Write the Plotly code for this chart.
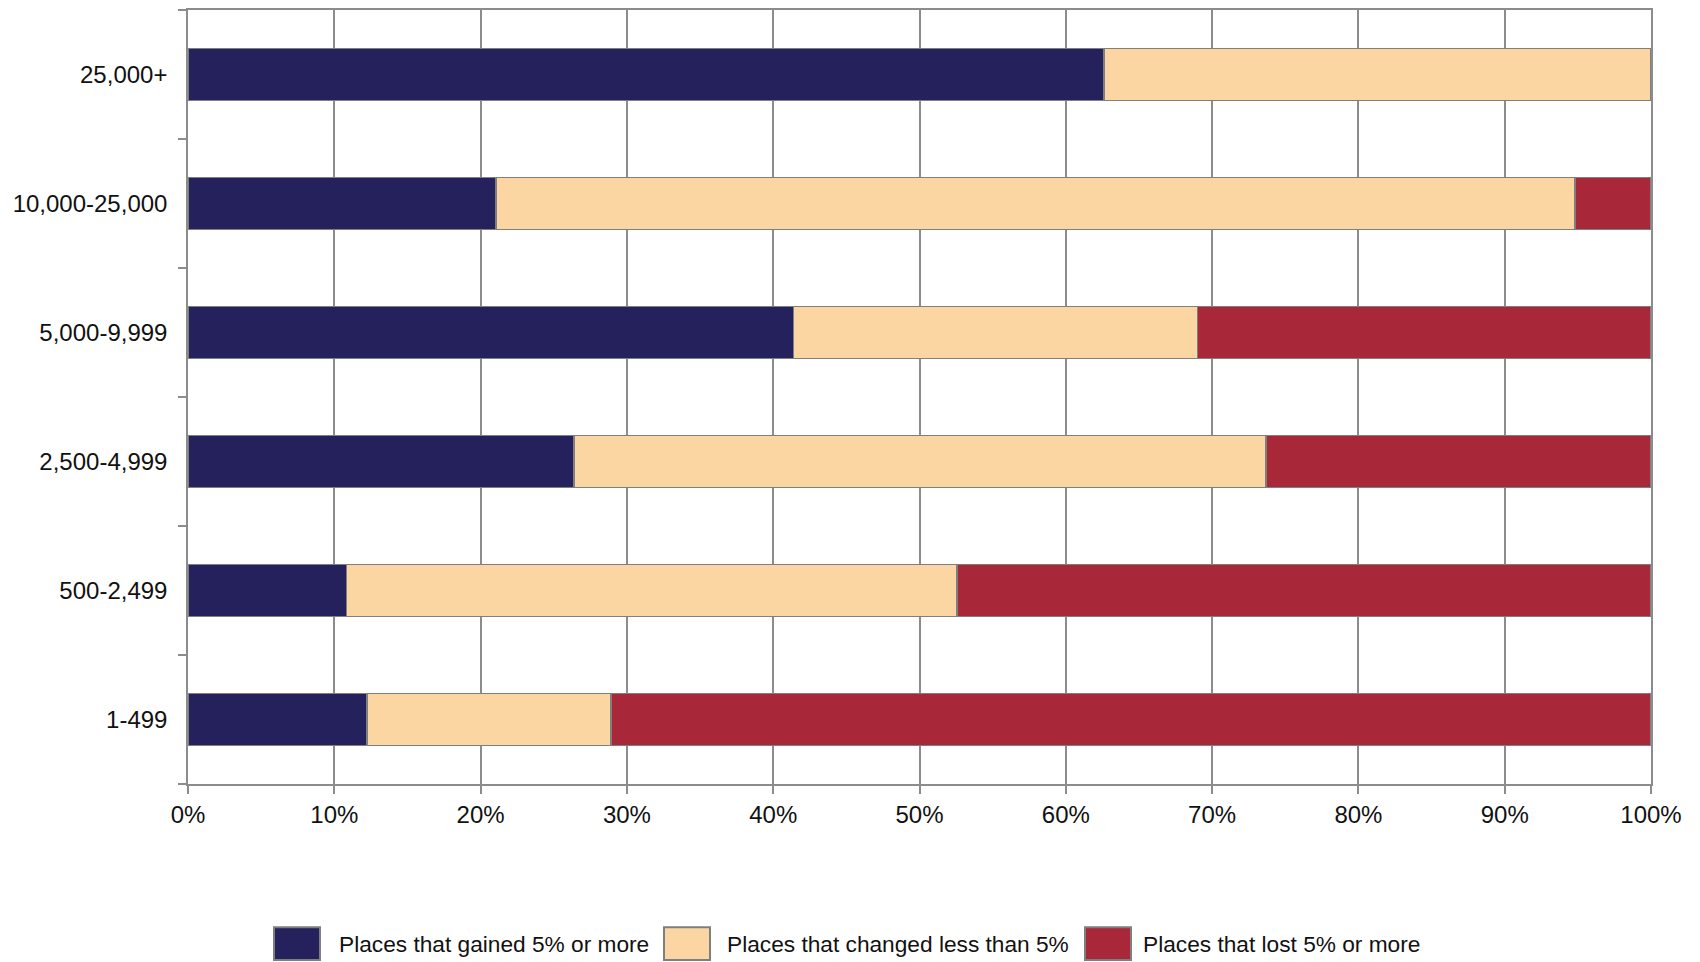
import plotly.graph_objects as go

# ---- data (percent of places, by population size) ----
categories = ["1-499", "500-2,499", "2,500-4,999", "5,000-9,999", "10,000-25,000", "25,000+"]
gained = [12.25, 10.85, 26.4, 41.4, 21.05, 62.6]
changed = [16.65, 41.7, 47.3, 27.6, 73.75, 37.4]
lost = [71.1, 47.45, 26.3, 31.0, 5.2, 0.0]

series_names = ["Places that gained 5% or more",
                "Places that changed less than 5%",
                "Places that lost 5% or more"]
series_values = [gained, changed, lost]
series_colors = ["#24215c", "#fcd6a2", "#a8283a"]

x_ticks = list(range(0, 101, 10))

W, H = 1700, 962
L, R, T, B = 180, 57, 0, 186
plot_w = W - L - R
plot_h = H - T - B

fig = go.Figure()
for name, vals, col in zip(series_names, series_values, series_colors):
    fig.add_trace(go.Bar(
        y=categories, x=vals, name=name, orientation="h",
        marker=dict(color=col, line=dict(color="#7f7f7f", width=1.5)),
        showlegend=False,
    ))

# custom legend (large swatches like the original)
legend_box_x = [266, 656, 1077]
legend_text_x = [329, 717, 1133]
box_w, box_h = 46, 33
box_cy = 936

def px_to_paper_x(px):
    return (px - L) / plot_w

def py_to_paper_y(py):
    return (H - B - py) / plot_h

shapes = []
annotations = []
for bx, tx, name, col in zip(legend_box_x, legend_text_x, series_names, series_colors):
    shapes.append(dict(
        type="rect", xref="paper", yref="paper",
        x0=px_to_paper_x(bx), x1=px_to_paper_x(bx + box_w),
        y0=py_to_paper_y(box_cy + box_h / 2), y1=py_to_paper_y(box_cy - box_h / 2),
        fillcolor=col, line=dict(color="#7f7f7f", width=2),
    ))
    annotations.append(dict(
        xref="paper", yref="paper", x=px_to_paper_x(tx), y=py_to_paper_y(box_cy),
        xanchor="left", yanchor="middle", text=name, showarrow=False,
        font=dict(size=22.7, color="#111111", family="Liberation Sans, Arial, sans-serif"),
    ))

fig.update_layout(
    width=W, height=H,
    margin=dict(l=L, r=R, t=T, b=B, pad=0),
    barmode="stack", bargap=0.6,
    plot_bgcolor="white", paper_bgcolor="white",
    font=dict(family="Liberation Sans, Arial, sans-serif", size=24, color="#111111"),
    shapes=shapes, annotations=annotations,
    xaxis=dict(
        range=[0, 100], tickvals=x_ticks, ticktext=[f"{v}%" for v in x_ticks],
        showgrid=True, gridcolor="#8c8c8c", gridwidth=1.5,
        showline=True, linecolor="#8c8c8c", linewidth=1.5, mirror=True,
        ticks="outside", ticklen=8, tickcolor="#8c8c8c", tickwidth=1.5,
        zeroline=False, fixedrange=True,
    ),
    yaxis=dict(
        categoryorder="array", categoryarray=categories, range=[-0.5, 5.5],
        tickson="boundaries", ticks="outside", ticklen=8, tickcolor="#8c8c8c", tickwidth=1.5,
        showgrid=False, showline=True, linecolor="#8c8c8c", linewidth=1.5, mirror=True,
        ticklabelstandoff=14, zeroline=False, fixedrange=True,
    ),
)

fig.write_html("out.html")
